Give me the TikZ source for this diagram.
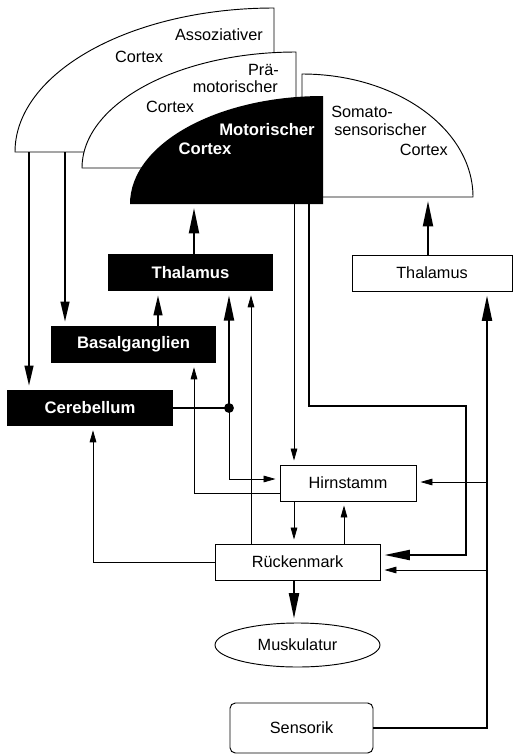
\documentclass[tikz,border=0pt]{standalone}
\usepackage{fontspec}
\setmainfont{Liberation Sans}
\usetikzlibrary{arrows.meta,calc,shapes.geometric}

\begin{document}
\begin{tikzpicture}[x=0.75pt,y=-0.75pt,
  txt/.style={font=\fontsize{12.2}{14}\selectfont, inner sep=0pt},
  btxt/.style={font=\fontsize{12.5}{14}\selectfont\bfseries, text=white, inner sep=0pt},
  cortex/.style={draw, line width=0.7pt, fill=white},
  boxw/.style={draw, line width=0.7pt, fill=white, inner sep=0pt,
    font=\fontsize{12.2}{14}\selectfont},
  boxb/.style={fill=black, text=white, inner sep=0pt,
    font=\fontsize{12.5}{14}\selectfont\bfseries},
  wire/.style={line width=0.6pt},
  heavy/.style={line width=1.5pt},
  tipS/.style={-{Triangle[length=9pt,width=5pt]}, shorten >=3pt},
  tipM/.style={-{Triangle[length=15pt,width=6.5pt]}, shorten >=3pt},
  tipL/.style={-{Triangle[length=19pt,width=7.5pt]}, shorten >=3pt},
]
\useasboundingbox (0,0) rectangle (514,754);

% cortical areas, back to front
\draw[cortex] (274,152) -- (15,152)
  arc[start angle=180, end angle=270, x radius=259, y radius=144] -- cycle;
\draw[cortex] (296,168) -- (82,168)
  arc[start angle=180, end angle=270, x radius=214, y radius=116] -- cycle;
\draw[cortex] (302,197) -- (302,74)
  arc[start angle=270, end angle=360, x radius=171, y radius=123] -- cycle;
\fill[black] (323,204) -- (130,204)
  arc[start angle=180, end angle=270, x radius=193, y radius=108] -- cycle;

% cortex labels
\node[txt, anchor=east] (ass1) at (263,35) {Assoziativer};
\node[txt] (ass2) at (139,57) {Cortex};
\node[txt, anchor=east] (pm1) at (279,70) {Prä-};
\node[txt, anchor=east] (pm2) at (278,87) {motorischer};
\node[txt] (pm3) at (170,107) {Cortex};
\node[btxt, anchor=east] (mc1) at (315,130) {Motorischer};
\node[btxt] (mc2) at (205,149) {Cortex};
\node[txt, anchor=west] (ss1) at (331,112) {Somato-};
\node[txt, anchor=west] (ss2) at (334,130) {sensorischer};
\node[txt, anchor=east] (ss3) at (448,150) {Cortex};

% lower edges of the cortical areas
\coordinate (assB) at (0,152);
\coordinate (motB) at (0,204);
\coordinate (somB) at (0,197);

% boxes
\node[boxb, minimum width=123.75pt, minimum height=27.75pt] (thalB) at (190.5,272.5) {Thalamus};
\node[boxb, minimum width=123.75pt, minimum height=27.75pt] (basal) at (133.5,344.5) {Basalganglien};
\node[boxb, minimum width=124.5pt, minimum height=27pt] (cereb) at (90,408) {Cerebellum};
\node[boxw, minimum width=120pt, minimum height=27pt] (thalW) at (432,273) {Thalamus};
\node[boxw, minimum width=102pt, minimum height=27pt] (hirn) at (348,483) {Hirnstamm};
\node[boxw, minimum width=123.75pt, minimum height=27pt] (rueck) at (297.5,562) {Rückenmark};
\node[boxw, ellipse, minimum width=123.75pt, minimum height=33pt] (musk) at (297.5,645) {Muskulatur};
\node[boxw, rounded corners=4pt, minimum width=107.25pt, minimum height=37.5pt] (sens) at (301.5,728) {Sensorik};

% columns and rows of the connectors
\coordinate (xA) at (194,0);
\coordinate (xAssC) at (29,0);
\coordinate (xAssB) at (65,0);
\coordinate (xBT) at (158,0);
\coordinate (xDot) at (229,0);
\coordinate (xRT) at (251,0);
\coordinate (xMH) at (294,0);
\coordinate (xMR) at (309,0);
\coordinate (xMRr) at (466,0);
\coordinate (xHR) at (344,0);
\coordinate (xSoma) at (428,0);
\coordinate (xSens) at (487,0);
\coordinate (xRC) at (93,0);
\coordinate (yHB) at (0,479);
\coordinate (yHBa) at (0,493);
\coordinate (yMR) at (0,406);
\coordinate (yMRb) at (0,555);
\coordinate (yS1) at (0,482);
\coordinate (yS2) at (0,570);
\coordinate (dot) at (cereb.east -| xDot);

% connectors
\draw[heavy, tipL] (thalB.north -| xA) -- (motB -| xA);
\draw[heavy, tipL] (thalW.north -| xSoma) -- (somB -| xSoma);
\draw[heavy, tipM] (assB -| xAssC) -- (cereb.north -| xAssC);
\draw[heavy, tipM] (assB -| xAssB) -- (basal.north -| xAssB);
\draw[heavy, tipM] (basal.north -| xBT) -- (thalB.south -| xBT);

\draw[heavy] (cereb.east) -- (dot);
\fill (dot) circle (3.7pt);
\draw[heavy, tipL] (dot) -- (thalB.south -| dot);
\draw[wire, tipS] (dot) -- (dot |- yHB) -- (hirn.west |- yHB);
\draw[wire, tipS] (hirn.west |- yHBa) -- (xA |- yHBa) -- (basal.south -| xA);
\draw[wire, tipS] (rueck.north -| xRT) -- (thalB.south -| xRT);

\draw[wire, tipS] (motB -| xMH) -- (hirn.north -| xMH);
\draw[heavy, tipL] (motB -| xMR) -- (xMR |- yMR) -- (xMRr |- yMR)
  -- (xMRr |- yMRb) -- (rueck.east |- yMRb);

\draw[heavy, tipL] (sens.east) -- (sens.east -| xSens) -- (thalW.south -| xSens);
\draw[wire, tipS] (xSens |- yS1) -- (hirn.east |- yS1);
\draw[wire, tipS] (xSens |- yS2) -- (rueck.east |- yS2);

\draw[wire, tipS] (hirn.south -| xMH) -- (rueck.north -| xMH);
\draw[wire, tipS] (rueck.north -| xHR) -- (hirn.south -| xHR);
\draw[heavy, tipL] (rueck.south -| xMH) -- (musk.north -| xMH);
\draw[wire, tipS] (rueck.west) -- (rueck.west -| xRC) -- (cereb.south -| xRC);
\end{tikzpicture}
\end{document}
